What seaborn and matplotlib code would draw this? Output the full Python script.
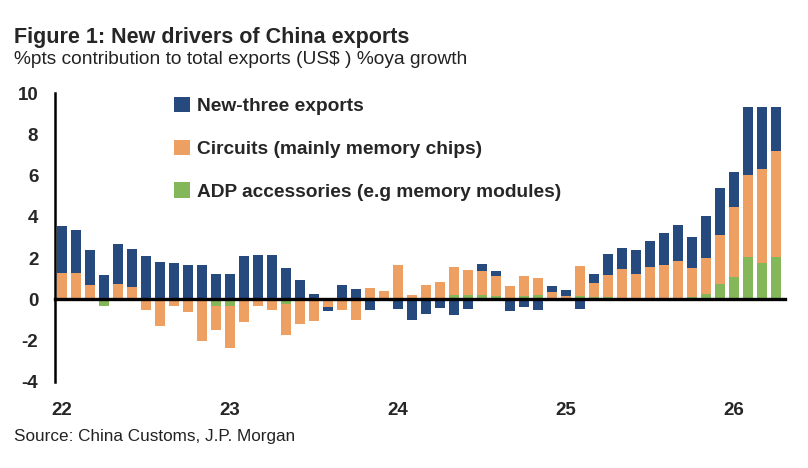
import matplotlib
matplotlib.use("Agg")
import matplotlib.pyplot as plt
from matplotlib.patches import Patch
import pandas as pd
import seaborn as sns

# monthly, Jan-22 .. Apr-26
months = pd.date_range("2022-01-01", periods=52, freq="MS").strftime("%b-%y").tolist()

# %pts contributions
adp = [0, 0, -0.1, -0.3, -0.1, -0.1, 0, 0, 0, 0,
       0, -0.3, -0.3, -0.1, 0, 0, -0.2, 0, 0, 0,
       0, 0, 0, 0, 0, 0, 0, 0.05, 0.2, 0.2,
       0.2, 0.15, 0.05, 0.15, 0.2, 0.05, 0, 0.15, 0.1, 0.1,
       0.05, 0.05, 0.05, 0.05, 0.05, 0.1, 0.25, 0.74, 1.09, 2.06,
       1.77, 2.06]
circuits = [1.3, 1.3, 0.7, 0.0, 0.75, 0.6, -0.53, -1.3, -0.34, -0.6,
            -2.0, -1.2, -2.05, -1.0, -0.3, -0.53, -1.5, -1.2, -1.05, -0.35,
            -0.53, -1.0, 0.57, 0.4, 1.65, 0.22, 0.68, 0.8, 1.38, 1.24,
            1.2, 0.97, 0.6, 1.0, 0.85, 0.33, 0.15, 1.45, 0.7, 1.1,
            1.42, 1.2, 1.52, 1.6, 1.8, 1.42, 1.77, 2.37, 3.38, 3.98,
            4.53, 5.15]
new_three = [2.27, 2.05, 1.68, 1.2, 1.95, 1.83, 2.1, 1.82, 1.77, 1.65,
             1.68, 1.25, 1.25, 2.1, 2.14, 2.17, 1.54, 0.92, 0.25, -0.2,
             0.72, 0.52, -0.5, -0.1, -0.47, -0.98, -0.72, -0.42, -0.76, -0.44,
             0.33, 0.26, -0.57, -0.37, -0.5, 0.25, 0.3, -0.46, 0.45, 1.0,
             1.0, 1.13, 1.28, 1.55, 1.74, 1.5, 2.03, 2.28, 1.71, 3.28,
             3.0, 2.09]

labels = ["ADP accessories (e.g memory modules)",
          "Circuits (mainly memory chips)",
          "New-three exports"]
colors = ["#84b65a", "#eea062", "#264a7e"]

sns.set_theme(style="white")
plt.rcParams["font.family"] = ["Liberation Sans", "DejaVu Sans"]

df = pd.DataFrame({"month": months, "adp": adp, "circuits": circuits, "new3": new_three})
parts = ["adp", "circuits", "new3"]
#stack positives up and negatives down separately
pos = df[parts].clip(lower=0).cumsum(axis=1)
neg = df[parts].clip(upper=0).cumsum(axis=1)

fig = plt.figure(figsize=(8.08, 4.68), dpi=100)
ax = fig.add_axes([55 / 808, 86 / 468, 730 / 808, 289 / 468])

#draw the tallest cumulative layer first so lower layers sit on top of it
for col, c in reversed(list(zip(parts, colors))):
    for layer in (pos, neg):
        sns.barplot(x=df["month"], y=layer[col], order=months, color=c,
                    saturation=1, width=0.74, errorbar=None, linewidth=0,
                    edgecolor=c, ax=ax)

ax.set_xlim(-0.5, 51.64)
ax.set_ylim(-4, 10)
ax.set_xlabel("")
ax.set_ylabel("")

for s in ["top", "right"]:
    ax.spines[s].set_visible(False)
ax.spines["left"].set_linewidth(1.8)
ax.spines["left"].set_color("black")
ax.spines["bottom"].set_position(("data", 0))
ax.spines["bottom"].set_linewidth(2.4)
ax.spines["bottom"].set_color("black")
ax.spines["bottom"].set_zorder(5)

ax.set_yticks(range(-4, 11, 2))
ax.set_yticklabels([str(v) for v in range(-4, 11, 2)], fontsize=13.5, fontweight="bold")
ax.tick_params(axis="y", direction="out", length=6, width=1.6, color="black", pad=6)

jan = [i for i, m in enumerate(months) if m.startswith("Jan")]
ax.set_xticks([i - 0.5 for i in jan[1:]])
ax.set_xticklabels([""] * len(jan[1:]))
ax.tick_params(axis="x", direction="out", length=5, width=1.8, color="black")
for i in jan:
    ax.text(i, -0.097, months[i][-2:], transform=ax.get_xaxis_transform(),
            ha="center", va="center", fontsize=13.5, fontweight="bold")

handles = [Patch(facecolor=c, edgecolor="none") for c in colors]
fig.legend(handles[::-1], labels[::-1], loc="upper left",
           bbox_to_anchor=(174 / 808, 1 - 97 / 468), frameon=False,
           prop={"size": 13.8, "weight": "bold"}, handlelength=0.85, handleheight=0.85,
           handletextpad=0.35, labelspacing=1.27, borderpad=0, borderaxespad=0)

fig.text(14 / 808, 1 - 37 / 468, "Figure 1: New drivers of China exports",
         fontsize=15.5, fontweight="bold", va="center")
fig.text(14 / 808, 1 - 60 / 468, "%pts contribution to total exports (US$ ) %oya growth",
         fontsize=13.8, va="center", color="#222222")
fig.text(14 / 808, 1 - 437 / 468, "Source: China Customs, J.P. Morgan",
         fontsize=12.3, va="center", color="#222222")

fig.savefig("out.png", dpi=100, facecolor="white")
